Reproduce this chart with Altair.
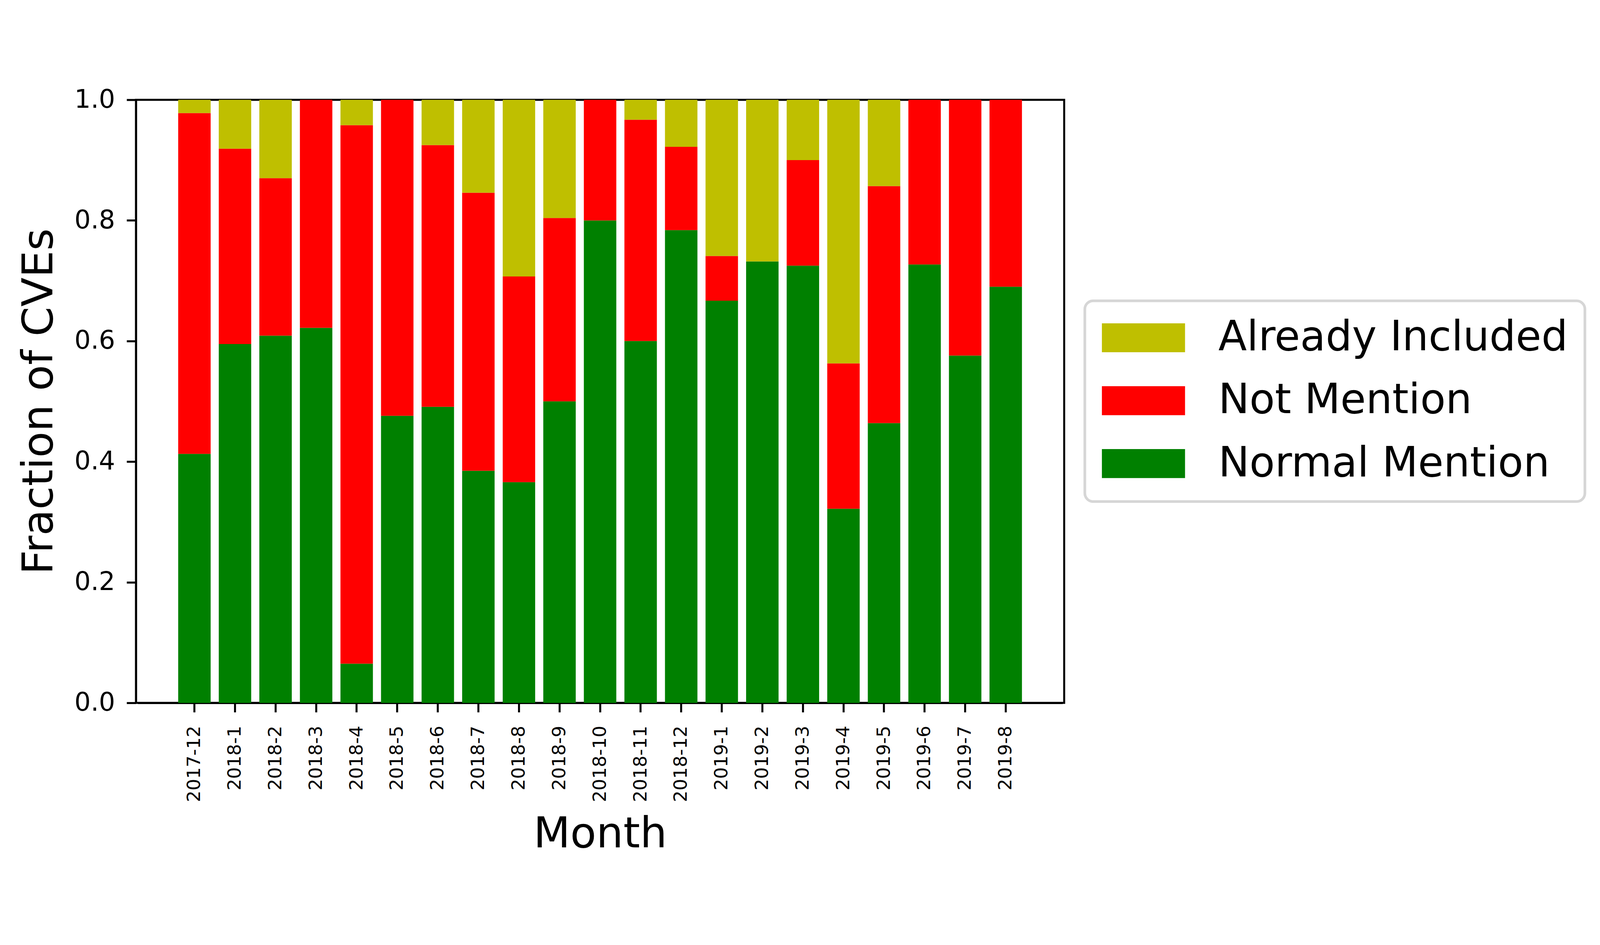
import altair as alt
import pandas as pd

months = ["2017-12", "2018-1", "2018-2", "2018-3", "2018-4", "2018-5", "2018-6",
          "2018-7", "2018-8", "2018-9", "2018-10", "2018-11", "2018-12", "2019-1",
          "2019-2", "2019-3", "2019-4", "2019-5", "2019-6", "2019-7", "2019-8"]

normal_mention = [0.413, 0.595, 0.609, 0.622, 0.065, 0.476, 0.491, 0.385, 0.366, 0.500,
                  0.800, 0.600, 0.784, 0.667, 0.732, 0.725, 0.322, 0.464, 0.727, 0.576, 0.690]
not_mention_top = [0.978, 0.919, 0.870, 1.000, 0.958, 1.000, 0.925, 0.846, 0.707, 0.804,
                   1.000, 0.967, 0.922, 0.741, 0.732, 0.900, 0.563, 0.857, 1.000, 1.000, 1.000]

series = ["Already Included", "Not Mention", "Normal Mention"]
colors = ["#bfbf00", "#ff0000", "#008000"]
stack_rank = {"Normal Mention": 0, "Not Mention": 1, "Already Included": 2}

rows = []
for m, g, r in zip(months, normal_mention, not_mention_top):
    rows.append({"Month": m, "Series": "Normal Mention", "Fraction": g})
    rows.append({"Month": m, "Series": "Not Mention", "Fraction": round(r - g, 4)})
    rows.append({"Month": m, "Series": "Already Included", "Fraction": round(1.0 - r, 4)})
df = pd.DataFrame(rows)
df["rank"] = df["Series"].map(stack_rank)

FONT = "DejaVu Sans"
symbol_path = "M-1,-0.348L1,-0.348L1,0.348L-1,0.348Z"

chart = alt.Chart(df).mark_bar().encode(
    x=alt.X("Month:N", sort=months,
            scale=alt.Scale(paddingInner=0.2, paddingOuter=1, range=[5, 2783]),
            axis=alt.Axis(title="Month", labelAngle=-90, labelFontSize=55,
                          labelPadding=40, labelLimit=1000, tickSize=28, tickWidth=6,
                          tickColor="black", domainColor="black", domainWidth=6,
                          titleFontSize=128, titleY=434, titleBaseline="alphabetic",
                          labelColor="black", titleColor="black",
                          titleFontWeight="normal")),
    y=alt.Y("Fraction:Q", stack="zero",
            scale=alt.Scale(domain=[0, 1], nice=False),
            axis=alt.Axis(title="Fraction of CVEs", values=[0, 0.2, 0.4, 0.6, 0.8, 1.0],
                          format=".1f", labelFontSize=77, labelPadding=35, tickSize=28,
                          tickWidth=6, tickColor="black", domainColor="black",
                          domainWidth=6, grid=False, titleFontSize=128,
                          titleX=-252, titleBaseline="alphabetic",
                          labelColor="black", titleColor="black",
                          titleFontWeight="normal")),
    color=alt.Color("Series:N",
                    scale=alt.Scale(domain=series, range=colors),
                    legend=alt.Legend(title=None, orient="none", legendX=2850, legendY=604,
                                      symbolType=symbol_path, symbolSize=62500,
                                      symbolStrokeWidth=0, symbolOpacity=1,
                                      labelFontSize=125, labelOffset=100, labelLimit=3000,
                                      labelColor="black", clipHeight=120, rowPadding=64,
                                      padding=51, strokeColor="#d6d6d6",
                                      fillColor="white", cornerRadius=25)),
    order=alt.Order("rank:Q", sort="ascending"),
).properties(
    width=2788,
    height=1812,
    autosize=alt.AutoSizeParams(type="none"),
    padding={"left": 399, "top": 83, "right": 1600, "bottom": 500},
).configure(
    font=FONT,
).configure_view(
    stroke="black", strokeWidth=6
).configure_legend(
    strokeWidth=8
)

chart.save("out.html", embed_options={"renderer": "svg", "actions": False})
